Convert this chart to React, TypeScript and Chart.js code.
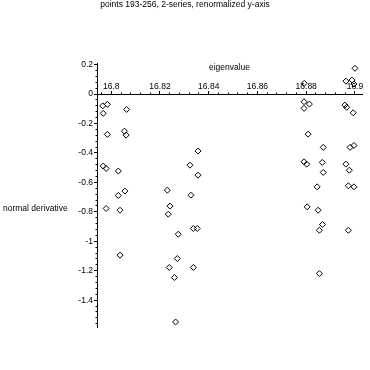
import { useEffect, useRef } from 'react';
import { Chart, registerables } from 'chart.js';

Chart.register(...registerables);

const TITLE = 'points 193-256, 2-series, renormalized y-axis';
const X_LABEL = 'eigenvalue';
const Y_LABEL = 'normal derivative';

const eigenvalues = [
  16.7965, 16.7984, 16.7967, 16.8063, 16.7984, 16.8054, 16.8061, 16.7967, 16.7979, 16.8029, 16.8029, 16.8056, 16.7979, 16.8036, 16.8036,
  16.8230, 16.8241, 16.8234, 16.8337, 16.8353, 16.8275, 16.8271, 16.8238, 16.8337, 16.8259, 16.8264, 16.8356, 16.8323, 16.8356, 16.8327,
  16.8792, 16.8791, 16.8813, 16.8791, 16.8808, 16.8870, 16.8791, 16.8802, 16.8866, 16.8870, 16.8845, 16.8804, 16.8849, 16.8867, 16.8854, 16.8854,
  16.9000, 16.8963, 16.8988, 16.8996, 16.8959, 16.8966, 16.8993, 16.8980, 16.8996, 16.8963, 16.8977, 16.8973, 16.8996, 16.8973,
];

const normalDerivatives = [
  -0.080, -0.070, -0.131, -0.104, -0.274, -0.252, -0.279, -0.489, -0.505, -0.523, -0.689, -0.659, -0.777, -0.789, -1.094,
  -0.653, -0.761, -0.816, -0.913, -0.913, -0.952, -1.117, -1.178, -1.178, -1.246, -1.548, -0.387, -0.483, -0.551, -0.687,
  0.073, -0.052, -0.068, -0.097, -0.272, -0.362, -0.460, -0.476, -0.464, -0.532, -0.630, -0.766, -0.789, -0.886, -0.925, -1.219,
  0.175, 0.088, 0.095, 0.068, -0.075, -0.090, -0.127, -0.362, -0.349, -0.476, -0.517, -0.623, -0.630, -0.925,
];

const X_MIN = 16.79415;
const X_MAX = 16.9029;
const X_STEP = 0.02;
const X_MINOR = 0.004;
const Y_MIN = -1.582;
const Y_MAX = 0.211;
const Y_STEP = 0.2;
const Y_MINOR = 0.04;

const FONT_FAMILY = '"Liberation Sans", Arial, sans-serif';
const FONT_SIZE = 8.5;

const align = (p: number) => Math.round(p - 0.5) + 0.5;

const decorPlugin = {
  id: 'decor',
  afterDraw(chart: any) {
    const { ctx, chartArea } = chart;
    const xs = chart.scales.x;
    const ys = chart.scales.y;
    ctx.save();
    ctx.strokeStyle = '#000';
    ctx.lineWidth = 1;
    ctx.beginPath();
    const y0 = align(ys.getPixelForValue(0));
    for (let k = Math.ceil(X_MIN / X_MINOR - 1e-9); k * X_MINOR <= X_MAX + 1e-9; k++) {
      const px = align(xs.getPixelForValue(k * X_MINOR));
      ctx.moveTo(px, y0);
      ctx.lineTo(px, y0 - 2);
    }
    const xl = align(chartArea.left);
    for (let k = Math.ceil(Y_MIN / Y_MINOR - 1e-9); k * Y_MINOR <= Y_MAX + 1e-9; k++) {
      const py = align(ys.getPixelForValue(k * Y_MINOR));
      ctx.moveTo(xl, py);
      ctx.lineTo(xl - 2, py);
    }
    ctx.stroke();

    ctx.fillStyle = '#000';
    ctx.font = `${FONT_SIZE}px ${FONT_FAMILY}`;
    ctx.textBaseline = 'middle';
    ctx.textAlign = 'center';
    ctx.fillText(TITLE, 185, 5);
    ctx.fillText(X_LABEL, (chartArea.left + chartArea.right) / 2, 68);
    ctx.textAlign = 'left';
    ctx.fillText(Y_LABEL, 3, 209);
    ctx.restore();
  },
};

const fmt = (v: number | string) => String(Number(Number(v).toFixed(3)));

export default function App() {
  const ref = useRef<HTMLCanvasElement | null>(null);

  useEffect(() => {
    if (!ref.current) return;
    const points = eigenvalues.map((x, i) => ({ x, y: normalDerivatives[i] }));
    const font = { family: FONT_FAMILY, size: FONT_SIZE };
    const chart = new Chart(ref.current, {
      type: 'scatter',
      data: {
        datasets: [
          {
            label: 'points',
            data: points,
            pointStyle: 'rectRot',
            pointRadius: 3,
            borderColor: '#000',
            backgroundColor: 'rgba(0,0,0,0)',
            borderWidth: 1,
          },
        ],
      },
      options: {
        animation: false,
        responsive: false,
        devicePixelRatio: 1,
        layout: { padding: { left: 0, top: 63, right: 8, bottom: 43 } },
        plugins: { legend: { display: false }, tooltip: { enabled: false }, title: { display: false } },
        scales: {
          x: {
            type: 'linear',
            position: { y: 0 } as any,
            min: X_MIN,
            max: X_MAX,
            grid: { display: true, drawOnChartArea: false, drawTicks: true, tickLength: -4, tickColor: '#000', color: '#000' },
            border: { display: true, color: '#000', width: 1 },
            ticks: {
              stepSize: X_STEP,
              includeBounds: false,
              autoSkip: false,
              maxRotation: 0,
              padding: -9,
              color: '#000',
              font,
              callback: (v: any) => fmt(v),
            },
          },
          y: {
            type: 'linear',
            position: 'left',
            min: Y_MIN,
            max: Y_MAX,
            afterFit: (s: any) => {
              s.width = 97;
            },
            grid: { display: true, drawOnChartArea: false, drawTicks: true, tickLength: 3, tickColor: '#000', color: '#000' },
            border: { display: true, color: '#000', width: 1 },
            ticks: {
              stepSize: Y_STEP,
              includeBounds: false,
              autoSkip: false,
              padding: 1,
              color: '#000',
              font,
              callback: (v: any) => fmt(v),
            },
          },
        },
      },
      plugins: [decorPlugin],
    });
    return () => chart.destroy();
  }, []);

  return (
    <div style={{ position: 'absolute', left: 0, top: 0, width: 370, height: 370, background: '#fff' }}>
      <canvas ref={ref} width={370} height={370} style={{ width: 370, height: 370, display: 'block' }} />
    </div>
  );
}
